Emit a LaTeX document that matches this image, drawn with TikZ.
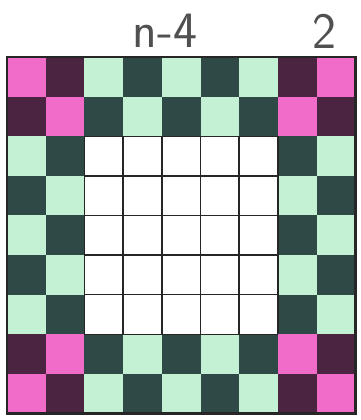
\documentclass[tikz,border=0pt]{standalone}
\definecolor{pinkl}{HTML}{F06CC8}
\definecolor{pinkd}{HTML}{4A2440}
\definecolor{greenl}{HTML}{C4F0D4}
\definecolor{greend}{HTML}{2F4A46}
\definecolor{inkc}{HTML}{505050}

\begin{document}
\begin{tikzpicture}[x=0.02cm, y=-0.02cm,
  lbl/.style={font=\sffamily\fontsize{29}{29}\selectfont, text=inkc, inner sep=0pt},
  rule/.style={draw=black!85, line width=0.8pt},
  frame/.style={draw=black!85, line width=1.4pt}]
\useasboundingbox (0,0) rectangle (360,420);
\def\xo{7} \def\yo{57} \def\cw{38.7} \def\ch{39.6}
% cells, row by row
\foreach \r in {1,...,9}{
  \foreach \c in {1,...,9}{
    \pgfmathtruncatemacro\odd{mod(\r+\c,2)}
    \pgfmathtruncatemacro\corner{((\r<3)||(\r>7))&&((\c<3)||(\c>7))}
    \pgfmathtruncatemacro\inner{(\r>2)&&(\r<8)&&(\c>2)&&(\c<8)}
    \ifnum\inner=1 \def\fc{white}%
    \else\ifnum\corner=1
      \ifnum\odd=0 \def\fc{pinkl}\else\def\fc{pinkd}\fi
    \else
      \ifnum\odd=0 \def\fc{greenl}\else\def\fc{greend}\fi
    \fi\fi
    \fill[\fc] ({\xo+(\c-1)*\cw},{\yo+(\r-1)*\ch}) rectangle ++(\cw,\ch);
  }
}
% grid of the white block
\foreach \k in {0,...,5}{
  \draw[rule] ({\xo+(2+\k)*\cw},{\yo+2*\ch}) -- ++(0,{5*\ch});
  \draw[rule] ({\xo+2*\cw},{\yo+(2+\k)*\ch}) -- ++({5*\cw},0);
}
\draw[frame] (\xo,\yo) rectangle ++({9*\cw},{9*\ch});
% labels
\node[lbl] (nlbl) at (165,31) {n-4};
\node[lbl] (twolbl) at (324,31) {2};
\end{tikzpicture}
\end{document}
